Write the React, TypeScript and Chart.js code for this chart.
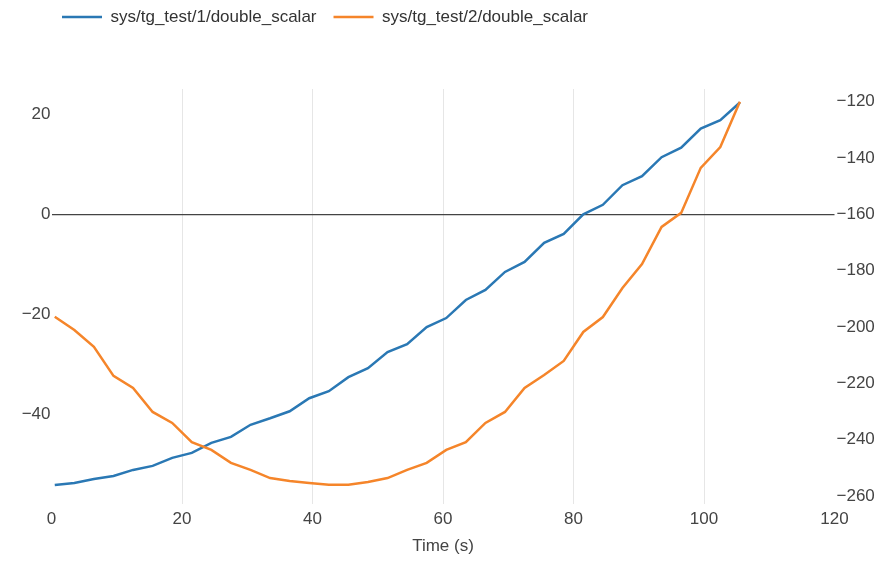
import React, { useEffect, useRef } from 'react';
import { Chart, registerables } from 'chart.js';

Chart.register(...registerables);

const seriesNames = ['sys/tg_test/1/double_scalar', 'sys/tg_test/2/double_scalar'];
const seriesColors = ['#2a78b4', '#f5852a'];

const timeSec = [0.5, 3.5, 6.5, 9.5, 12.5, 15.5, 18.5, 21.5, 24.5, 27.5, 30.5, 33.5, 36.5, 39.5, 42.5, 45.5, 48.5, 51.5, 54.5, 57.5, 60.5, 63.5, 66.5, 69.5, 72.5, 75.5, 78.5, 81.5, 84.5, 87.5, 90.5, 93.5, 96.5, 99.5, 102.5, 105.5];

const scalar1 = [-54.0, -53.6, -52.8, -52.2, -51.0, -50.2, -48.6, -47.6, -45.6, -44.4, -42.0, -40.7, -39.3, -36.7, -35.3, -32.5, -30.7, -27.5, -25.9, -22.5, -20.7, -17.1, -15.1, -11.5, -9.5, -5.7, -3.9, 0.0, 1.9, 5.8, 7.6, 11.4, 13.3, 17.1, 18.8, 22.3];

const scalar2 = [-196.4, -201.1, -207.1, -217.4, -221.7, -230.2, -234.1, -240.9, -243.7, -248.3, -250.8, -253.7, -254.7, -255.4, -256.1, -256.1, -255.1, -253.7, -250.8, -248.3, -243.7, -240.9, -234.1, -230.2, -221.7, -217.1, -212.1, -201.8, -196.5, -186.2, -177.7, -164.5, -159.5, -143.5, -136.1, -120.0];

const xTicks = [0, 20, 40, 60, 80, 100, 120];
const leftTicks = [-40, -20, 0, 20];
const rightTicks = [-260, -240, -220, -200, -180, -160, -140, -120];
const xRange = [0, 120];
const leftRange = [-57.8, 25];
const rightRange = [-262.9, -115.5];
const xTitle = 'Time (s)';

const FONT = "'Liberation Sans', Arial, Helvetica, sans-serif";
const minus = (v: number | string) => String(v).replace('-', '\u2212');

const legendPlace = {
  id: 'legendPlace',
  afterLayout(chart: any) {
    const lg = chart.legend;
    if (!lg) return;
    const dx = 45 - lg.left;
    lg.left += dx;
    lg.right += dx;
    lg.top = -8.5;
    lg.bottom = lg.top + lg.height;
  },
};

export default function App() {
  const canvasRef = useRef<HTMLCanvasElement | null>(null);

  useEffect(() => {
    const canvas = canvasRef.current;
    if (!canvas) return;
    Chart.defaults.font.family = FONT;
    Chart.defaults.font.size = 17;
    Chart.defaults.color = '#444';

    const chart = new Chart(canvas, {
      type: 'line',
      data: {
        datasets: [
          {
            label: seriesNames[0],
            data: timeSec.map((t, i) => ({ x: t, y: scalar1[i] })),
            borderColor: seriesColors[0],
            backgroundColor: seriesColors[0],
            borderWidth: 2.5,
            pointRadius: 0,
            tension: 0,
            yAxisID: 'y',
            order: 2,
          },
          {
            label: seriesNames[1],
            data: timeSec.map((t, i) => ({ x: t, y: scalar2[i] })),
            borderColor: seriesColors[1],
            backgroundColor: seriesColors[1],
            borderWidth: 2.5,
            pointRadius: 0,
            tension: 0,
            yAxisID: 'y1',
            order: 1,
          },
        ],
      },
      options: {
        animation: false,
        responsive: true,
        maintainAspectRatio: false,
        layout: { padding: { top: 45, left: 0, right: 0, bottom: 0 } },
        plugins: {
          legend: {
            position: 'top',
            align: 'start',
            labels: {
              boxWidth: 40,
              boxHeight: 0,
              padding: 17,
              color: '#333',
              font: { size: 17, family: FONT },
              sort: (a: any, b: any) => a.datasetIndex - b.datasetIndex,
            },
          },
          tooltip: { enabled: false },
        },
        scales: {
          x: {
            type: 'linear',
            min: xRange[0],
            max: xRange[1],
            afterBuildTicks: (s: any) => { s.ticks = xTicks.map((v) => ({ value: v })); },
            afterFit: (s: any) => { s.height = 58; },
            ticks: { padding: 5, color: '#444', font: { size: 17 }, callback: (v: any) => minus(v) },
            grid: {
              drawTicks: false,
              color: (ctx: any) => (ctx.tick && (ctx.tick.value === xRange[0] || ctx.tick.value === xRange[1]) ? 'rgba(0,0,0,0)' : '#e6e6e6'),
              lineWidth: 1,
            },
            border: { display: false },
            title: { display: true, text: xTitle, color: '#444', font: { size: 17 }, padding: { top: 4, bottom: 5 } },
          },
          y: {
            type: 'linear',
            position: 'left',
            min: leftRange[0],
            max: leftRange[1],
            afterBuildTicks: (s: any) => { s.ticks = leftTicks.map((v) => ({ value: v })); },
            afterFit: (s: any) => { s.width = 51.5; },
            ticks: { padding: 1, color: '#444', font: { size: 17 }, callback: (v: any) => minus(v) },
            grid: {
              drawTicks: false,
              color: (ctx: any) => (ctx.tick && ctx.tick.value === 0 ? '#444' : 'rgba(0,0,0,0)'),
              lineWidth: 1.2,
            },
            border: { display: false },
          },
          y1: {
            type: 'linear',
            position: 'right',
            min: rightRange[0],
            max: rightRange[1],
            afterBuildTicks: (s: any) => { s.ticks = rightTicks.map((v) => ({ value: v })); },
            afterFit: (s: any) => { s.width = 60.5; },
            ticks: { padding: 2, color: '#444', font: { size: 17 }, callback: (v: any) => minus(v) },
            grid: { display: false, drawTicks: false },
            border: { display: false },
          },
        },
      },
      plugins: [legendPlace],
    } as any);

    return () => chart.destroy();
  }, []);

  return (
    <div style={{ position: 'fixed', left: 0, top: 0, width: 895, height: 562, background: '#fff' }}>
      <canvas ref={canvasRef} />
    </div>
  );
}
